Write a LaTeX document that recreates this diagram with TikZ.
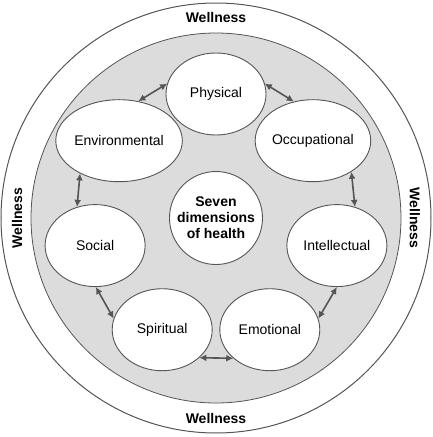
\documentclass[tikz,border=0pt]{standalone}
\usepackage{fontspec}
\setmainfont{Liberation Sans}
\usetikzlibrary{arrows.meta,shapes.geometric}
\definecolor{ringgray}{HTML}{DCDCDC}
\definecolor{linegray}{HTML}{555555}

\begin{document}
\begin{tikzpicture}[
  x=1pt, y=1pt,
  dim/.style={draw=linegray, line width=0.9pt, fill=white, ellipse,
    minimum width=100pt, minimum height=82pt, inner sep=0pt,
    font=\fontsize{14}{16}\selectfont},
  hub/.style={draw=linegray, line width=0.9pt, fill=white, circle,
    minimum size=93pt, inner sep=0pt, align=center,
    font=\fontsize{14}{16}\selectfont\bfseries},
  wellness/.style={font=\fontsize{14}{16}\selectfont\bfseries, inner sep=0pt},
  link/.style={draw=linegray, line width=1.6pt, {Latex[length=7pt,width=7pt]}-{Latex[length=7pt,width=7pt]}}
]
\useasboundingbox (-216,-219) rectangle (216,218);
% rings
\draw[linegray, line width=1pt, fill=white] (0,0) circle (215);
\draw[linegray, line width=0.8pt, fill=ringgray] (0,0) circle (185);

\node[wellness] (wtop) at (0,201) {Wellness};
\node[wellness] (wbot) at (0,-200) {Wellness};
\node[wellness, rotate=90] (wleft) at (-199,0) {Wellness};
\node[wellness, rotate=-90] (wright) at (199,0) {Wellness};

\node[hub] (hub) at (0,0) {Seven\\dimensions\\of health};

% the seven dimensions round the hub
\foreach \lab [count=\i from 0] in {Physical,Occupational,Intellectual,Emotional,Spiritual,Social,Environmental}
  \node[dim] (d\i) at ({90-\i*360/7}:124) {\lab};

\foreach \i in {0,...,6}{
  \pgfmathtruncatemacro\j{mod(\i+1,7)}
  \pgfmathtruncatemacro\aa{90-\i*360/7-78}
  \pgfmathtruncatemacro\bb{90-\j*360/7+78}
  \draw[link] (d\i.\aa) -- (d\j.\bb);
}
\end{tikzpicture}
\end{document}
